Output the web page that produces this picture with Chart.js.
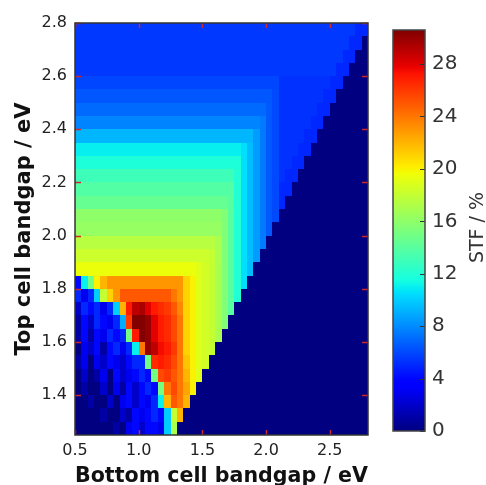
<!DOCTYPE html>
<html>
<head>
<meta charset="utf-8">
<style>
  html, body { margin: 0; padding: 0; background: #fff; }
  #wrap { position: relative; width: 486px; height: 485px; overflow: hidden; }
  #heat { position: absolute; left: 0; top: 0; }
  #bar { position: absolute; left: 380px; top: 0; }
</style>
<script src="https://cdn.jsdelivr.net/npm/chart.js"></script>
</head>
<body>
<div id="wrap">
  <canvas id="heat" width="380" height="485"></canvas>
  <canvas id="bar" width="106" height="485"></canvas>
</div>
<script>
// cell centres, eV
const bottomGap = [0.525,0.575,0.625,0.675,0.725,0.775,0.825,0.875,0.925,0.975,
  1.025,1.075,1.125,1.175,1.225,1.275,1.325,1.375,1.425,1.475,
  1.525,1.575,1.625,1.675,1.725,1.775,1.825,1.875,1.925,1.975,
  2.025,2.075,2.125,2.175,2.225,2.275,2.325,2.375,2.425,2.475,
  2.525,2.575,2.625,2.675,2.725,2.775]
// top to bottom
const topGap = [2.775,2.725,2.675,2.625,2.575,2.525,2.475,2.425,2.375,2.325,
  2.275,2.225,2.175,2.125,2.075,2.025,1.975,1.925,1.875,1.825,
  1.775,1.725,1.675,1.625,1.575,1.525,1.475,1.425,1.375,1.325,
  1.275]

// STF %, one row per topGap, one column per bottomGap
const stf = [
  [5.5,5.5,5.5,5.5,5.5,5.5,5.5,5.5,5.5,5.5, 5.5,5.5,5.5,5.5,5.5,5.5,5.5,5.5,5.5,5.5, 5.5,5.5,5.5,5.5,5.5,5.5,5.5,5.5,5.5,5.5, 5.5,5.5,5.5,5.5,5.5,5.5,5.5,5.5,5.5,5.5, 5.5,5.5,5.5,5.5,5,5],
  [5.5,5.5,5.5,5.5,5.5,5.5,5.5,5.5,5.5,5.5, 5.5,5.5,5.5,5.5,5.5,5.5,5.5,5.5,5.5,5.5, 5.5,5.5,5.5,5.5,5.5,5.5,5.5,5.5,5.5,5.5, 5.5,5.5,5.5,5.5,5.5,5.5,5.5,5.5,5.5,5.5, 5.5,5.5,5.5,5,5,0],
  [5.5,5.5,5.5,5.5,5.5,5.5,5.5,5.5,5.5,5.5, 5.5,5.5,5.5,5.5,5.5,5.5,5.5,5.5,5.5,5.5, 5.5,5.5,5.5,5.5,5.5,5.5,5.5,5.5,5.5,5.5, 5.5,5.5,5.5,5.5,5.5,5.5,5.5,5.5,5.5,5.5, 5.5,5.5,5,5,0,0],
  [5.5,5.5,5.5,5.5,5.5,5.5,5.5,5.5,5.5,5.5, 5.5,5.5,5.5,5.5,5.5,5.5,5.5,5.5,5.5,5.5, 5.5,5.5,5.5,5.5,5.5,5.5,5.5,5.5,5.5,5.5, 5.5,5.5,5.5,5.5,5.5,5.5,5.5,5.5,5.5,5.5, 5.5,5,5,0,0,0],
  [5.9,5.9,5.9,5.9,5.9,5.9,5.9,5.9,5.9,5.9, 5.9,5.9,5.9,5.9,5.9,5.9,5.9,5.9,5.9,5.9, 5.9,5.9,5.9,5.9,5.9,5.9,5.9,5.9,5.9,5.9, 5.9,5.9,5.3,5.3,5.3,5.3,5.3,5.3,5.3,5.3, 5,5,0,0,0,0],
  [6.4,6.4,6.4,6.4,6.4,6.4,6.4,6.4,6.4,6.4, 6.4,6.4,6.4,6.4,6.4,6.4,6.4,6.4,6.4,6.4, 6.4,6.4,6.4,6.4,6.4,6.4,6.4,6.4,6.4,6.4, 6.4,6,5.3,5.3,5.3,5.3,5.3,5.3,5.3,5, 5,0,0,0,0,0],
  [7,7,7,7,7,7,7,7,7,7, 7,7,7,7,7,7,7,7,7,7, 7,7,7,7,7,7,7,7,7,7, 6.5,6,5.3,5.3,5.3,5.3,5.3,5.3,5,5, 0,0,0,0,0,0],
  [7.8,7.8,7.8,7.8,7.8,7.8,7.8,7.8,7.8,7.8, 7.8,7.8,7.8,7.8,7.8,7.8,7.8,7.8,7.8,7.8, 7.8,7.8,7.8,7.8,7.8,7.8,7.8,7.8,7.8,7.5, 6.5,6,5.3,5.3,5.3,5.3,5.3,5,5,0, 0,0,0,0,0,0],
  [9.3,9.3,9.3,9.3,9.3,9.3,9.3,9.3,9.3,9.3, 9.3,9.3,9.3,9.3,9.3,9.3,9.3,9.3,9.3,9.3, 9.3,9.3,9.3,9.3,9.3,9.3,9.3,9.3,8.5,7.5, 6.5,6,5.3,5.3,5.3,5.3,5,5,0,0, 0,0,0,0,0,0],
  [11,11,11,11,11,11,11,11,11,11, 11,11,11,11,11,11,11,11,11,11, 11,11,11,11,11,11,10.5,9.5,8.5,7.5, 6.5,6,5.3,5.3,5.3,5,5,0,0,0, 0,0,0,0,0,0],
  [11.8,11.8,11.8,11.8,11.8,11.8,11.8,11.8,11.8,11.8, 11.8,11.8,11.8,11.8,11.8,11.8,11.8,11.8,11.8,11.8, 11.8,11.8,11.8,11.8,11.8,11.8,10.5,9.5,8.5,7.5, 6.5,6,5.3,5.3,5,5,0,0,0,0, 0,0,0,0,0,0],
  [13,13,13,13,13,13,13,13,13,13, 13,13,13,13,13,13,13,13,13,13, 13,13,13,13,13,12,10.5,9.5,8.5,7.5, 6.5,6,5.3,5,5,0,0,0,0,0, 0,0,0,0,0,0],
  [13.8,13.8,13.8,13.8,13.8,13.8,13.8,13.8,13.8,13.8, 13.8,13.8,13.8,13.8,13.8,13.8,13.8,13.8,13.8,13.8, 13.8,13.8,13.8,13.8,13.8,12,10.5,9.5,8.5,7.5, 6.5,6,5,5,0,0,0,0,0,0, 0,0,0,0,0,0],
  [14.5,14.5,14.5,14.5,14.5,14.5,14.5,14.5,14.5,14.5, 14.5,14.5,14.5,14.5,14.5,14.5,14.5,14.5,14.5,14.5, 14.5,14.5,14.5,14.5,14,12,10.5,9.5,8.5,7.5, 6.5,6,5,0,0,0,0,0,0,0, 0,0,0,0,0,0],
  [16,16,16,16,16,16,16,16,16,16, 16,16,16,16,16,16,16,16,16,16, 16,16,16,15.5,14,12,10.5,9.5,8.5,7.5, 6.5,6,0,0,0,0,0,0,0,0, 0,0,0,0,0,0],
  [16.3,16.3,16.3,16.3,16.3,16.3,16.3,16.3,16.3,16.3, 16.3,16.3,16.3,16.3,16.3,16.3,16.3,16.3,16.3,16.3, 16.3,16.3,16.3,15.5,14,12,10.5,9.5,8.5,7.5, 6.5,0,0,0,0,0,0,0,0,0, 0,0,0,0,0,0],
  [17.5,17.5,17.5,17.5,17.5,17.5,17.5,17.5,17.5,17.5, 17.5,17.5,17.5,17.5,17.5,17.5,17.5,17.5,17.5,17.5, 17.5,17.5,17,15.5,14,12,10.5,9.5,8.5,7.5, 0,0,0,0,0,0,0,0,0,0, 0,0,0,0,0,0],
  [18.3,18.3,18.3,18.3,18.3,18.3,18.3,18.3,18.3,18.3, 18.3,18.3,18.3,18.3,18.3,18.3,18.3,18.3,18.3,18.3, 18.3,18,17,15.5,14,12,10.5,9.5,8.5,0, 0,0,0,0,0,0,0,0,0,0, 0,0,0,0,0,0],
  [19.5,19.5,19.5,19.5,19.5,19.5,19.5,19.5,19.5,19.5, 19.5,19.5,19.5,19.5,19.5,19.5,19.5,19.5,19.5,19, 18.5,18,17,15.5,14,12,10.5,9.5,0,0, 0,0,0,0,0,0,0,0,0,0, 0,0,0,0,0,0],
  [4,11,15,20,22,23,23,23,23,23, 23,23,23,23,23,23,23,21,20,19, 18.5,18,17,15.5,14,12,10.5,0,0,0, 0,0,0,0,0,0,0,0,0,0, 0,0,0,0,0,0],
  [5,3,5,10,18,21,23,25,25,25, 25,25,25,25,25,24,23,21,20,19, 18.5,18,17,15.5,14,12,0,0,0,0, 0,0,0,0,0,0,0,0,0,0, 0,0,0,0,0,0],
  [2,5,4,5,3,5,10,22,27,29, 29.5,28,27,26.5,26,25,23.5,21,20,19, 18.5,18,17,15.5,14,0,0,0,0,0, 0,0,0,0,0,0,0,0,0,0, 0,0,0,0,0,0],
  [1,4,2,5,4,3,5,9,26,30.5, 30.5,30,28,27,26.5,25.5,24,21,20,19, 18.5,18,17,15.5,0,0,0,0,0,0, 0,0,0,0,0,0,0,0,0,0, 0,0,0,0,0,0],
  [1,4,1,4,3,5,4,5,15,27, 30.5,30,28,27,26.5,25.5,24,21,20,19, 18.5,18,17,0,0,0,0,0,0,0, 0,0,0,0,0,0,0,0,0,0, 0,0,0,0,0,0],
  [0,3,2,4,1,4,5,3,5,11, 24,30,29,27.5,27,26,24,21,20,19, 18.5,18,0,0,0,0,0,0,0,0, 0,0,0,0,0,0,0,0,0,0, 0,0,0,0,0,0],
  [1,3,0,3,2,4,3,2,4,5, 5,15,26.5,27,26.5,25.5,24,21.5,20,19, 18.5,0,0,0,0,0,0,0,0,0, 0,0,0,0,0,0,0,0,0,0, 0,0,0,0,0,0],
  [0,2,0,1,3,0,4,2,3,4, 5,4,15,25.5,26,25,24,22,20,19, 0,0,0,0,0,0,0,0,0,0, 0,0,0,0,0,0,0,0,0,0, 0,0,0,0,0,0],
  [0,1,0,0,2,0,3,1,4,2, 4,5,4,15,24,25.5,24,22.5,20,0, 0,0,0,0,0,0,0,0,0,0, 0,0,0,0,0,0,0,0,0,0, 0,0,0,0,0,0],
  [0,0,1,0,0,2,0,3,4,2, 4,3,5,11,22,25,24,22,0,0, 0,0,0,0,0,0,0,0,0,0, 0,0,0,0,0,0,0,0,0,0, 0,0,0,0,0,0],
  [0,0,0,0,1,0,0,2,1,4, 3,4,5,4,10,18,22,0,0,0, 0,0,0,0,0,0,0,0,0,0, 0,0,0,0,0,0,0,0,0,0, 0,0,0,0,0,0],
  [0,0,0,0,0,0,1,0,3,4, 2,4,4,3,10,17,0,0,0,0, 0,0,0,0,0,0,0,0,0,0, 0,0,0,0,0,0,0,0,0,0, 0,0,0,0,0,0]
]

const xTicks = [0.5, 1.0, 1.5, 2.0, 2.5]
const yTicks = [1.4, 1.6, 1.8, 2.0, 2.2, 2.4, 2.6, 2.8]
const stfTicks = [0, 4, 8, 12, 16, 20, 24, 28]
const stfMax = 30.6

const FONT = 'DejaVu Sans'

// matplotlib 'jet'
function jet(v) {
  const f = Math.max(0, Math.min(1, v / stfMax))
  const seg = (pts) => {
    for (let i = 1; i < pts.length; i++) {
      if (f <= pts[i][0]) {
        const [x0, y0] = pts[i - 1], [x1, y1] = pts[i]
        return y0 + (y1 - y0) * (f - x0) / (x1 - x0)
      }
    }
    return pts[pts.length - 1][1]
  }
  const r = seg([[0,0],[0.35,0],[0.66,1],[0.89,1],[1,0.5]])
  const g = seg([[0,0],[0.125,0],[0.375,1],[0.64,1],[0.91,0],[1,0]])
  const b = seg([[0,0.5],[0.11,1],[0.34,1],[0.65,0],[1,0]])
  return `rgb(${Math.round(r*255)},${Math.round(g*255)},${Math.round(b*255)})`
}

const heatPlugin = {
  id: 'heat',
  beforeDatasetsDraw(chart) {
    const {ctx, scales: {x, y}} = chart
    const hw = (bottomGap[1] - bottomGap[0]) / 2
    const hh = (topGap[0] - topGap[1]) / 2
    ctx.save()
    topGap.forEach((tg, r) => {
      const ya = Math.round(y.getPixelForValue(tg + hh))
      const yb = Math.round(y.getPixelForValue(tg - hh))
      bottomGap.forEach((bg, c) => {
        const xa = Math.round(x.getPixelForValue(bg - hw))
        const xb = Math.round(x.getPixelForValue(bg + hw))
        ctx.fillStyle = jet(stf[r][c])
        ctx.fillRect(xa, ya, xb - xa, yb - ya)
      })
    })
    ctx.restore()
  },
  afterDraw(chart) {
    const {ctx, scales: {x, y}} = chart
    const {top, bottom, left, right} = chart.chartArea
    ctx.save()
    // inward ticks
    ctx.strokeStyle = '#cc2a2a'
    ctx.lineWidth = 1.5
    ctx.beginPath()
    xTicks.forEach(v => {
      const px = Math.round(x.getPixelForValue(v)) + 0.5
      ctx.moveTo(px, bottom); ctx.lineTo(px, bottom - 5)
      ctx.moveTo(px, top); ctx.lineTo(px, top + 5)
    })
    yTicks.forEach(v => {
      const py = Math.round(y.getPixelForValue(v)) + 0.5
      ctx.moveTo(left, py); ctx.lineTo(left + 6, py)
      ctx.moveTo(right, py); ctx.lineTo(right - 6, py)
    })
    ctx.stroke()
    ctx.strokeStyle = '#333'
    ctx.lineWidth = 1.5
    ctx.strokeRect(left, top, right - left, bottom - top)
    ctx.restore()
  }
}

new Chart(document.getElementById('heat'), {
  type: 'scatter',
  data: { datasets: [{ data: [] }] },
  options: {
    responsive: false,
    animation: false,
    events: [],
    layout: { padding: { top: 23, right: 12, left: 0, bottom: 0 } },
    plugins: { legend: { display: false }, tooltip: { enabled: false } },
    scales: {
      x: {
        type: 'linear', min: 0.5, max: 2.8,
        afterBuildTicks: s => { s.ticks = xTicks.map(v => ({value: v})) },
        afterFit: s => { s.height = 50 },
        grid: { display: false, drawTicks: false },
        border: { display: false },
        ticks: { color: '#222', font: { family: FONT, size: 16 }, padding: 6, maxRotation: 0, autoSkip: false,
                 callback: v => v.toFixed(1) },
        title: { display: true, text: 'Bottom cell bandgap / eV', color: '#111',
                 font: { family: FONT, size: 21, weight: 'bold', lineHeight: 0.8 }, padding: 0 }
      },
      y: {
        type: 'linear', min: 1.25, max: 2.8,
        afterBuildTicks: s => { s.ticks = yTicks.map(v => ({value: v})) },
        afterFit: s => { s.width = 75 },
        grid: { display: false, drawTicks: false },
        border: { display: false },
        ticks: { color: '#222', font: { family: FONT, size: 16 }, padding: 8, autoSkip: false,
                 callback: v => v.toFixed(1) },
        title: { display: true, text: 'Top cell bandgap / eV', color: '#111',
                 font: { family: FONT, size: 21, weight: 'bold', lineHeight: 0.8 }, padding: { top: 16, bottom: 0 } }
      }
    }
  },
  plugins: [heatPlugin]
})

const barPlugin = {
  id: 'colorbar',
  beforeDatasetsDraw(chart) {
    const {ctx, scales: {y}} = chart
    const {left, right} = chart.chartArea
    const y0 = y.getPixelForValue(0), y1 = y.getPixelForValue(stfMax)
    const grad = ctx.createLinearGradient(0, y0, 0, y1)
    for (let i = 0; i <= 100; i++) grad.addColorStop(i / 100, jet(stfMax * i / 100))
    ctx.save()
    ctx.fillStyle = grad
    ctx.fillRect(left, y1, right - left, y0 - y1)
    ctx.restore()
  },
  afterDraw(chart) {
    const {ctx, scales: {y}} = chart
    const {top, bottom, left, right} = chart.chartArea
    ctx.save()
    ctx.strokeStyle = '#333'
    ctx.lineWidth = 1
    ctx.beginPath()
    stfTicks.forEach(v => {
      const py = Math.round(y.getPixelForValue(v)) + 0.5
      ctx.moveTo(right, py); ctx.lineTo(right - 5, py)
    })
    ctx.stroke()
    ctx.strokeStyle = '#444'
    ctx.lineWidth = 1.5
    ctx.strokeRect(left, top, right - left, bottom - top)
    // axis label, reads bottom to top
    ctx.translate(chart.width - 8, (top + bottom) / 2 - 3)
    ctx.rotate(-Math.PI / 2)
    ctx.fillStyle = '#333'
    ctx.font = `19px "${FONT}"`
    ctx.textAlign = 'center'
    ctx.textBaseline = 'middle'
    ctx.fillText('STF / %', 0, 0)
    ctx.restore()
  }
}

new Chart(document.getElementById('bar'), {
  type: 'scatter',
  data: { datasets: [{ data: [] }] },
  options: {
    responsive: false,
    animation: false,
    events: [],
    layout: { padding: { left: 13, top: 30, bottom: 54, right: 0 } },
    plugins: { legend: { display: false }, tooltip: { enabled: false } },
    scales: {
      x: { display: false, min: 0, max: 1 },
      y: {
        position: 'right', min: 0, max: stfMax,
        afterBuildTicks: s => { s.ticks = stfTicks.map(v => ({value: v})) },
        afterFit: s => { s.width = 61 },
        grid: { display: false, drawTicks: false },
        border: { display: false },
        ticks: { color: '#333', font: { family: FONT, size: 20 }, padding: 7, autoSkip: false }
      }
    }
  },
  plugins: [barPlugin]
})
</script>
</body>
</html>
